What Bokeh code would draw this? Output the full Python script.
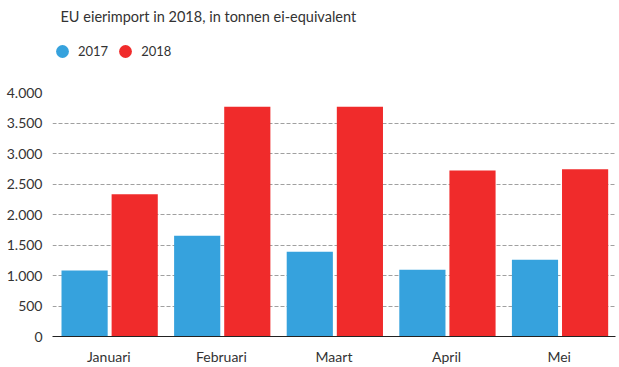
from bokeh.plotting import figure
from bokeh.layouts import column
from bokeh.models import FactorRange, Range1d, FixedTicker, Legend, LegendItem, ColumnDataSource
from bokeh.transform import dodge
from bokeh.embed import file_html
from bokeh.resources import INLINE

months = ["Januari", "Februari", "Maart", "April", "Mei"]
v2017 = [1080, 1650, 1390, 1095, 1260]
v2018 = [2330, 3765, 3765, 2720, 2740]
series = ["2017", "2018"]
colors = ["#36A2DD", "#F02B2B"]
y_ticks = [0, 500, 1000, 1500, 2000, 2500, 3000, 3500, 4000]
y_tick_labels = ["0", "500", "1.000", "1.500", "2.000", "2.500", "3.000", "3.500", "4.000"]
title_text = "EU eierimport in 2018, in tonnen ei-equivalent"

FONT = "Lato"
TXT = "#333333"
W = 619

# ---- header: title + legend ----
head = figure(width=W, height=82, output_backend="svg", toolbar_location=None,
              x_range=Range1d(0, 1), y_range=Range1d(0, 1),
              x_axis_location=None, y_axis_location=None,
              min_border_left=0, min_border_right=0, min_border_top=0, min_border_bottom=0)
head.grid.visible = False
head.outline_line_color = None
head.title.text = title_text
head.title.align = "left"
head.title.offset = 8
head.title.text_font = FONT
head.title.text_font_size = "14.5px"
head.title.text_font_style = "normal"
head.title.text_color = TXT

proxy = ColumnDataSource(data=dict(x=[float("nan")], y=[float("nan")]))
s1 = head.scatter("x", "y", source=proxy, marker="circle", size=13, color=colors[0], line_color=None)
s2 = head.scatter("x", "y", source=proxy, marker="circle", size=13, color=colors[1], line_color=None)
legend = Legend(items=[LegendItem(label=series[0], renderers=[s1]),
                       LegendItem(label=series[1], renderers=[s2])],
                orientation="horizontal", location=(-6, 15),
                glyph_width=32, glyph_height=32, label_standoff=0, spacing=1,
                padding=0, margin=0, border_line_color=None, background_fill_alpha=0,
                label_text_font=FONT, label_text_font_size="13px", label_text_color=TXT)
head.add_layout(legend, "center")

# ---- chart ----
src = ColumnDataSource(data=dict(month=months, v2017=v2017, v2018=v2018))

p = figure(width=W, height=285, output_backend="svg", toolbar_location=None,
           x_range=FactorRange(*months, range_padding=0, factor_padding=0),
           y_range=Range1d(0, 4000),
           min_border_left=52, min_border_right=4, min_border_top=10, min_border_bottom=30)

p.vbar(x=dodge("month", -0.215, range=p.x_range), top="v2017", width=0.41,
       source=src, color=colors[0], line_color=None)
p.vbar(x=dodge("month", 0.23, range=p.x_range), top="v2018", width=0.41,
       source=src, color=colors[1], line_color=None)

for ax in (p.xaxis, p.yaxis):
    ax.major_tick_out = 0
    ax.major_tick_in = 0
    ax.minor_tick_out = 0
    ax.minor_tick_in = 0
    ax.major_tick_line_color = None
    ax.minor_tick_line_color = None
    ax.major_label_text_font = FONT
    ax.major_label_text_font_size = "14px"
    ax.major_label_text_color = TXT

p.yaxis.ticker = FixedTicker(ticks=y_ticks)
p.yaxis.major_label_overrides = {t: l for t, l in zip(y_ticks, y_tick_labels)}
p.yaxis.axis_line_color = None
p.yaxis.major_label_standoff = 10

p.xaxis.axis_line_color = "#222222"
p.xaxis.axis_line_width = 1
p.xaxis.major_label_standoff = 11

p.xgrid.grid_line_color = None
p.ygrid.grid_line_color = "#a0a0a0"
p.ygrid.grid_line_dash = "4 2"
p.ygrid.grid_line_width = 1
p.outline_line_color = None

layout = column(head, p, spacing=0)
open("out.html", "w").write(file_html(layout, INLINE))
